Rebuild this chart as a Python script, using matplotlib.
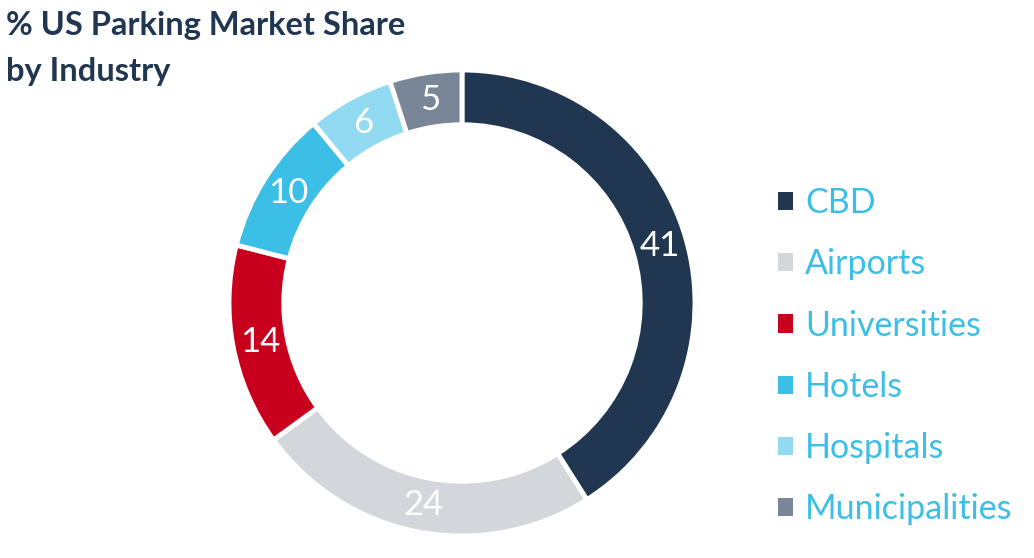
import numpy as np
import matplotlib.pyplot as plt
from matplotlib.patches import Patch

plt.rcParams['font.family'] = ['Lato', 'DejaVu Sans']

industries = ['CBD', 'Airports', 'Universities', 'Hotels', 'Hospitals', 'Municipalities']
shares = [41, 24, 14, 10, 6, 5]
colors = ['#213751', '#D3D6DB', '#C8001E', '#3BBFE6', '#92DAF1', '#798697']

W, H = 1034, 558
fig = plt.figure(figsize=(W / 100, H / 100), dpi=100)

# donut centred at (462, 303) px, outer radius 233 px
cx, cy, r = 462, 303, 233
ax = fig.add_axes([(cx - r) / W, (H - cy - r) / H, 2 * r / W, 2 * r / H])

ring = 0.235
wedges, _ = ax.pie(shares, colors=colors, startangle=90, counterclock=False,
                   radius=1, wedgeprops=dict(width=ring, edgecolor='white', linewidth=3.5))
ax.set_xlim(-1, 1)
ax.set_ylim(-1, 1)
ax.set_aspect('equal')

mid_r = 1 - ring / 2
for w, v in zip(wedges, shares):
    ang = np.deg2rad((w.theta1 + w.theta2) / 2)
    ax.text(mid_r * np.cos(ang), mid_r * np.sin(ang), str(v), color='white',
            fontsize=25, ha='center', va='center')

fig.text(6 / W, 1 - 11 / H, '% US Parking Market Share\nby Industry', color='#213751',
         fontsize=23.5, fontweight='bold', ha='left', va='top', linespacing=1.7)

handles = [Patch(facecolor=c, edgecolor='none') for c in colors]
fig.legend(handles, industries, loc='upper left', bbox_to_anchor=(778 / W, 1 - 187 / H),
           frameon=False, fontsize=24.5, labelcolor='#3BBFE6', handlelength=0.45,
           handleheight=0.45, handletextpad=0.35, labelspacing=0.86, borderpad=0,
           borderaxespad=0)

fig.savefig('out.png', dpi=100)
